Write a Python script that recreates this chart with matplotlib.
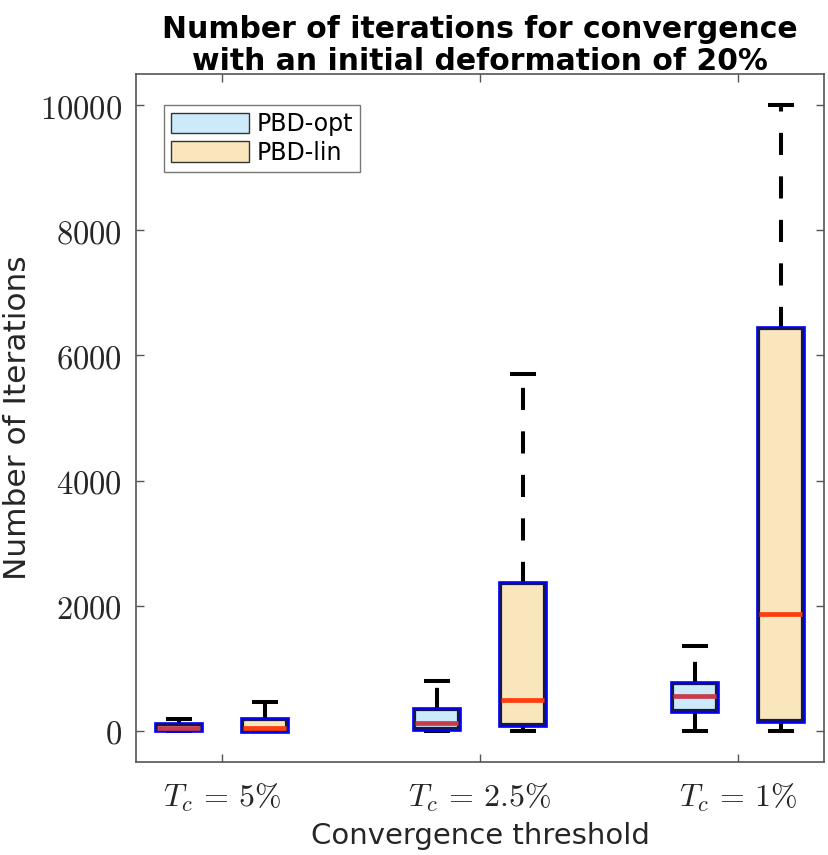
import numpy as np
import matplotlib
matplotlib.use('Agg')
import matplotlib.pyplot as plt
import matplotlib.patheffects as pe
from matplotlib.patches import Patch

plt.rcParams['mathtext.fontset'] = 'cm'
plt.rcParams['font.family'] = 'DejaVu Sans'

# group labels and box stats
thresholds = ['$T_c \\,=\\, 5\\%$', '$T_c \\,=\\, 2.5\\%$', '$T_c \\,=\\, 1\\%$']
opt_whislo = [0, 0, 0]
opt_q1 = [20, 50, 335]
opt_med = [45, 130, 560]
opt_q3 = [85, 335, 750]
opt_whishi = [190, 795, 1360]

lin_whislo = [0, 0, 0]
lin_q1 = [10, 105, 175]
lin_med = [50, 490, 1865]
lin_q3 = [170, 2350, 6430]
lin_whishi = [465, 5700, 10000]

yticks = [0, 2000, 4000, 6000, 8000, 10000]

opt_fill = '#CCEAF9'
lin_fill = '#FAE6BC'


def stats(lo, q1, med, q3, hi):
    return [dict(whislo=a, q1=b, med=c, q3=d, whishi=e, fliers=[])
            for a, b, c, d, e in zip(lo, q1, med, q3, hi)]


def draw(ax, st, pos, fill, medcol):
    box_fx = [pe.Stroke(linewidth=4.8, foreground='#0000FF'), pe.Normal()]
    ax.bxp(st, positions=pos, widths=0.5, patch_artist=True, showfliers=False,
           boxprops=dict(facecolor=fill, edgecolor='#161650', linewidth=1.6,
                         path_effects=box_fx, zorder=3),
           whiskerprops=dict(color='black', linewidth=2.9,
                             linestyle=(0, (5.5, 5.3)), zorder=2),
           capprops=dict(color='black', linewidth=2.9, zorder=2),
           medianprops=dict(color=medcol, linewidth=3.4,
                            solid_capstyle='butt', zorder=4))


fig = plt.figure(figsize=(8.29, 8.55), dpi=100)
ax = fig.add_axes([136 / 829, 1 - 762 / 855, 688 / 829, 688 / 855])

n = len(thresholds)
opt_pos = [1 + 3 * i for i in range(n)]
lin_pos = [2 + 3 * i for i in range(n)]

draw(ax, stats(opt_whislo, opt_q1, opt_med, opt_q3, opt_whishi), opt_pos, opt_fill, '#C83C4B')
draw(ax, stats(lin_whislo, lin_q1, lin_med, lin_q3, lin_whishi), lin_pos, lin_fill, '#FF3D0D')

ax.set_xlim(0.5, 8.5)
ax.set_ylim(-500, 10500)
ax.set_xticks([p + 0.5 for p in opt_pos])
ax.set_xticklabels(thresholds, fontsize=23, color='#262626')
ax.set_yticks(yticks)
ax.set_yticklabels(['$%d$' % v for v in yticks], fontsize=23.5, color='#262626')

ax.tick_params(direction='in', length=6, width=1, color='#555555',
               top=True, right=True)
ax.tick_params(axis='x', pad=14)
ax.tick_params(axis='y', pad=10)
for s in ax.spines.values():
    s.set_color('#555555')
    s.set_linewidth(1.2)

ax.set_ylabel('Number of Iterations', fontsize=22.5, color='#262626', labelpad=6)
ax.set_xlabel('Convergence threshold', fontsize=21, color='#262626', labelpad=6)
ax.set_title('Number of iterations for convergence\nwith an initial deformation of 20%',
             fontsize=21.5, fontweight='bold', linespacing=1.12, pad=3)

handles = [Patch(facecolor=opt_fill, edgecolor='#333333', label='PBD-opt'),
           Patch(facecolor=lin_fill, edgecolor='#333333', label='PBD-lin')]
leg = ax.legend(handles=handles, loc='upper left', bbox_to_anchor=(0.041, 0.955),
                fontsize=17, frameon=True, fancybox=False, edgecolor='#555555',
                handlelength=3.3, handleheight=0.95, borderpad=0.3, labelspacing=0.2,
                handletextpad=0.3, borderaxespad=0)
leg.get_frame().set_linewidth(1.0)

fig.savefig('out.png', dpi=100)
